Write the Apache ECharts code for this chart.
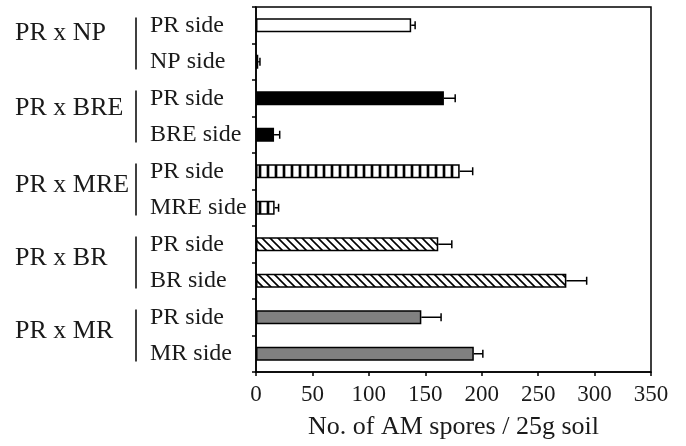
<!DOCTYPE html>
<html>
<head>
<meta charset="utf-8">
<script src="https://cdn.jsdelivr.net/npm/echarts@6/dist/echarts.min.js"></script>
<style>html,body{margin:0;padding:0;background:#fff}#c{width:686px;height:446px}</style>
</head>
<body>
<div id="c"></div>
<script>
// ---- data ----
const groups = ['PR x NP', 'PR x BRE', 'PR x MRE', 'PR x BR', 'PR x MR'];
const sides = ['PR side', 'NP side', 'PR side', 'BRE side', 'PR side', 'MRE side', 'PR side', 'BR side', 'PR side', 'MR side'];
const means = [137.5, 2, 166.5, 16, 180.5, 16.5, 161.5, 275, 146.5, 193];
const errs = [3.5, 1.5, 10, 5, 11.5, 3.5, 12, 18, 17.5, 8];
const fills = ['white', 'white', 'black', 'black', 'vstripe', 'vstripe', 'diag', 'diag', 'gray', 'gray'];
const xTicks = [0, 50, 100, 150, 200, 250, 300, 350];
const xTitle = 'No. of AM spores / 25g soil';

// ---- layout (group label lift above group centre, px) ----
const groupLift = [10, 8, 4, 4, 4];

// ---- patterns ----
function vStripe() {
  const c = document.createElement('canvas'); c.width = 8; c.height = 8;
  const g = c.getContext('2d');
  g.fillStyle = '#fff'; g.fillRect(0, 0, 8, 8);
  g.fillStyle = '#aaa'; g.fillRect(2, 0, 1, 8); g.fillRect(5, 0, 1, 8);
  g.fillStyle = '#000'; g.fillRect(3, 0, 2, 8);
  return { image: c, repeat: 'repeat' };
}
function diag() {
  const c = document.createElement('canvas'); c.width = 8; c.height = 8;
  const g = c.getContext('2d');
  g.fillStyle = '#fff'; g.fillRect(0, 0, 8, 8);
  g.strokeStyle = '#000'; g.lineWidth = 1.6;
  g.beginPath();
  g.moveTo(-2, -2); g.lineTo(10, 10);
  g.moveTo(6, -2); g.lineTo(10, 2);
  g.moveTo(-2, 6); g.lineTo(2, 10);
  g.stroke();
  return { image: c, repeat: 'repeat' };
}
const fillMap = { white: '#ffffff', black: '#000000', gray: '#808080', vstripe: vStripe(), diag: diag() };

const FONT = 'Liberation Serif';
const TXT = '#1a1a1a';

const chart = echarts.init(document.getElementById('c'), null, { renderer: 'canvas' });
chart.setOption({
  animation: false,
  backgroundColor: '#fff',
  grid: {
    left: 256, right: 35, top: 7, bottom: 74, containLabel: false, outerBoundsMode: 'none',
    show: true, borderColor: '#000', borderWidth: 1.5, backgroundColor: 'transparent'
  },
  xAxis: {
    type: 'value', min: xTicks[0], max: xTicks[xTicks.length - 1], interval: 50,
    axisLine: { show: true, lineStyle: { color: '#000', width: 1.5 } },
    axisTick: { show: true, inside: false, length: 4, lineStyle: { color: '#000', width: 1.5 } },
    splitLine: { show: false },
    axisLabel: { fontFamily: FONT, fontSize: 23, color: TXT, margin: 11 },
    name: xTitle, nameLocation: 'middle', nameGap: 42,
    nameTextStyle: { fontFamily: FONT, fontSize: 26, color: TXT }
  },
  yAxis: [
    {
      type: 'category', data: sides, inverse: true, position: 'left',
      axisLine: { show: true, lineStyle: { color: '#000', width: 1.5 } },
      axisTick: { show: true, inside: false, length: 4, lineStyle: { color: '#000', width: 1.5 } },
      axisLabel: { fontFamily: FONT, fontSize: 24, color: TXT, align: 'left', margin: 106 },
      splitLine: { show: false }
    },
    {
      type: 'category', data: groups, inverse: true, position: 'left',
      axisLine: { show: false }, axisTick: { show: false }, splitLine: { show: false },
      axisLabel: { show: false }
    }
  ],
  series: [
    {
      type: 'bar', yAxisIndex: 0, barWidth: 14, z: 2,
      data: means.map((m, i) => ({ value: m, itemStyle: { color: fillMap[fills[i]], borderColor: '#000', borderWidth: 1.5 } }))
    },
    {
      type: 'custom', yAxisIndex: 0, z: 3,
      encode: { x: [0, 1], y: 2 },
      data: means.map((m, i) => [m, m + errs[i], i]),
      renderItem: function (params, api) {
        const a = api.coord([api.value(0), api.value(2)]);
        const b = api.coord([api.value(1), api.value(2)]);
        return {
          type: 'group', children: [
            { type: 'line', shape: { x1: a[0], y1: a[1], x2: b[0], y2: b[1] }, style: { stroke: '#000', lineWidth: 1.5 } },
            { type: 'line', shape: { x1: b[0], y1: b[1] - 4, x2: b[0], y2: b[1] + 4 }, style: { stroke: '#000', lineWidth: 1.5 } }
          ]
        };
      }
    },
    {
      type: 'custom', yAxisIndex: 1, z: 3, clip: false,
      encode: { x: 0, y: 1 },
      data: groups.map((g, i) => [0, i]),
      renderItem: function (params, api) {
        const idx = api.value(1);
        const p = api.coord([0, idx]);
        const x = p[0] - 120;
        return {
          type: 'group', children: [
            { type: 'line', shape: { x1: x, y1: p[1] - 26, x2: x, y2: p[1] + 26 }, style: { stroke: '#000', lineWidth: 1.5 } },
            {
              type: 'text', x: p[0] - 241, y: p[1] - groupLift[idx],
              style: { text: groups[idx], font: '26px "' + FONT + '"', fill: TXT, align: 'left', verticalAlign: 'middle' }
            }
          ]
        };
      }
    }
  ]
});
</script>
</body>
</html>
